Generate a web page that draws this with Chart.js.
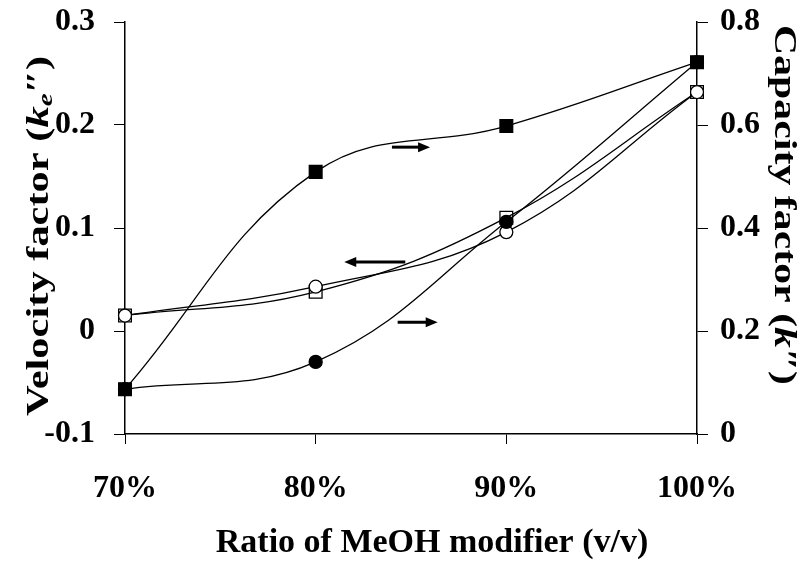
<!DOCTYPE html>
<html><head><meta charset="utf-8">
<script src="https://cdn.jsdelivr.net/npm/chart.js@4/dist/chart.umd.min.js"></script>
<style>html,body{margin:0;padding:0;background:#fff}#wrap{width:809px;height:565px}</style>
</head><body><div id="wrap"><canvas id="c" width="809" height="565"></canvas></div>
<script>
const categories = ['70%', '80%', '90%', '100%'];
// left axis (velocity factor)
const openSquare = [0.015, 0.038, 0.110, 0.232];
const openCircle = [0.015, 0.043, 0.096, 0.232];
// right axis (capacity factor)
const filledSquare = [0.087, 0.509, 0.598, 0.722];
const filledCircle = [0.087, 0.140, 0.412, 0.722];
const leftTicks = [-0.1, 0, 0.1, 0.2, 0.3];
const rightTicks = [0, 0.2, 0.4, 0.6, 0.8];
// annotation arrows: [x start (category index), x end, y value, axis]
const arrows = [
  [1.40, 1.60, 0.557, 'y2'],
  [1.47, 1.15, 0.067, 'y'],
  [1.43, 1.64, 0.217, 'y2']
];

const FONT = "'Liberation Serif', 'Times New Roman', serif";

const titlePlugin = {
  id: 'titles',
  afterDraw(chart) {
    const ctx = chart.ctx;
    const drawParts = (parts, cx, cy, rot, sx) => {
      ctx.save();
      ctx.translate(cx, cy);
      ctx.rotate(rot);
      ctx.scale(sx, 1);
      ctx.fillStyle = '#000';
      ctx.textBaseline = 'middle';
      let total = 0;
      parts.forEach(p => { ctx.font = p.f; total += ctx.measureText(p.t).width; });
      let x = -total / 2;
      parts.forEach(p => {
        ctx.font = p.f;
        ctx.fillText(p.t, x, p.dy || 0);
        x += ctx.measureText(p.t).width;
      });
      ctx.restore();
    };
    const f = (s, it) => (it ? 'italic ' : '') + 'bold ' + s + 'px ' + FONT;
    drawParts([{t:'Velocity factor (', f:f(31)}, {t:'k', f:f(31, 1)}, {t:'e', f:f(21, 1), dy:7}, {t:'\u2033)', f:f(31)}], 40, 236, -Math.PI/2, 1.37);
    drawParts([{t:'Capacity factor (', f:f(31)}, {t:'k', f:f(31, 1)}, {t:'\u2033)', f:f(31)}], 783, 205, Math.PI/2, 1.35);
    drawParts([{t:'Ratio of MeOH modifier (v/v)', f:f(34)}], 432, 543, 0, 1);
    // arrows
    const xs = chart.scales.x;
    ctx.save();
    ctx.strokeStyle = '#000'; ctx.fillStyle = '#000'; ctx.lineWidth = 3;
    arrows.forEach(a => {
      const ys = chart.scales[a[3]];
      const x1 = xs.getPixelForValue(a[0]), x2 = xs.getPixelForValue(a[1]), y = ys.getPixelForValue(a[2]);
      const dir = Math.sign(x2 - x1);
      ctx.beginPath(); ctx.moveTo(x1, y); ctx.lineTo(x2 - dir * 8, y); ctx.stroke();
      ctx.beginPath(); ctx.moveTo(x2, y); ctx.lineTo(x2 - dir * 12, y - 5); ctx.lineTo(x2 - dir * 12, y + 5); ctx.closePath(); ctx.fill();
    });
    ctx.restore();
  }
};

const common = { borderColor: '#000', borderWidth: 1.3, tension: 0.4, pointBorderColor: '#000', pointBorderWidth: 1.3, fill: false };
const tickFont = { family: FONT, size: 32, weight: 'bold' };

new Chart(document.getElementById('c'), {
  type: 'line',
  data: {
    labels: categories,
    datasets: [
      Object.assign({}, common, { label: 'filled circle', data: filledCircle, yAxisID: 'y2', pointStyle: 'circle', pointRadius: 6.5, pointBackgroundColor: '#000' }),
      Object.assign({}, common, { label: 'filled square', data: filledSquare, yAxisID: 'y2', pointStyle: 'rect', pointRadius: 9, pointBackgroundColor: '#000' }),
      Object.assign({}, common, { label: 'open circle', data: openCircle, yAxisID: 'y', pointStyle: 'circle', pointRadius: 6.5, pointBackgroundColor: '#fff' }),
      Object.assign({}, common, { label: 'open square', data: openSquare, yAxisID: 'y', pointStyle: 'rect', pointRadius: 9, pointBackgroundColor: 'rgba(255,255,255,0)' })
    ]
  },
  options: {
    responsive: false,
    animation: false,
    layout: { padding: { top: 22, left: 0, right: 0, bottom: 0 } },
    plugins: { legend: { display: false }, tooltip: { enabled: false } },
    scales: {
      x: {
        type: 'category', offset: false,
        grid: { display: true, drawOnChartArea: false, drawTicks: true, tickLength: 10, color: '#000', lineWidth: 1 },
        border: { color: '#000', width: 1.5 },
        ticks: { color: '#000', font: tickFont, padding: 26, maxRotation: 0 },
        afterFit(s) { s.height = 131; s.paddingLeft = 0; s.paddingRight = 0; }
      },
      y: {
        position: 'left', min: -0.1, max: 0.3,
        afterBuildTicks(s) { s.ticks = leftTicks.map(v => ({ value: v })); },
        grid: { display: true, drawOnChartArea: false, drawTicks: true, tickLength: 11, color: '#000', lineWidth: 1 },
        border: { color: '#000', width: 1.5 },
        ticks: { color: '#000', font: tickFont, padding: 19, callback: v => String(Math.round(v * 10) / 10) },
        afterFit(s) { s.width = 125; s.paddingTop = 0; s.paddingBottom = 0; }
      },
      y2: {
        position: 'right', min: 0, max: 0.8,
        afterBuildTicks(s) { s.ticks = rightTicks.map(v => ({ value: v })); },
        grid: { display: true, drawOnChartArea: false, drawTicks: true, tickLength: 11, color: '#000', lineWidth: 1 },
        border: { color: '#000', width: 1.5 },
        ticks: { color: '#000', font: tickFont, padding: 12, callback: v => String(Math.round(v * 10) / 10) },
        afterFit(s) { s.width = 112; s.paddingTop = 0; s.paddingBottom = 0; }
      }
    }
  },
  plugins: [titlePlugin]
});
</script>
</body></html>
